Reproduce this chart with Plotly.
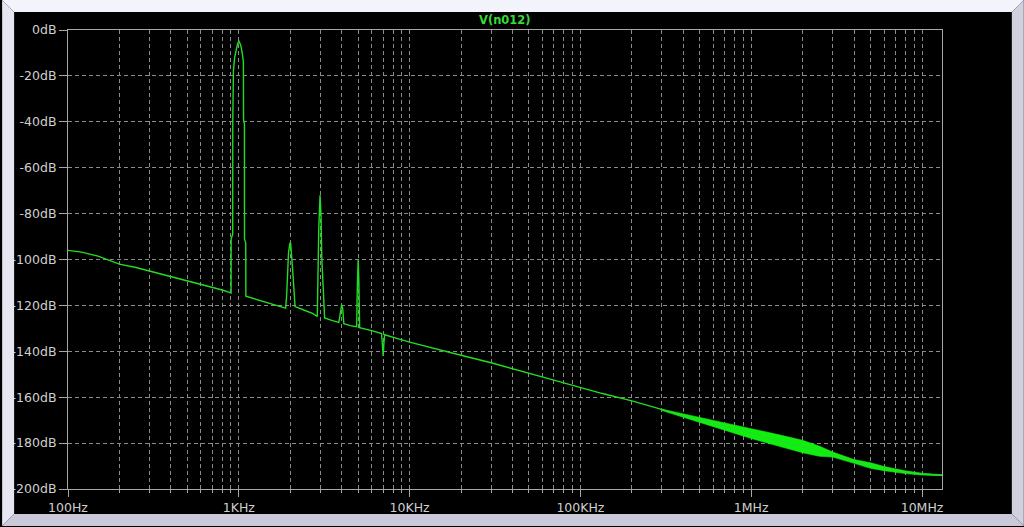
import plotly.graph_objects as go

# ---------------- data ----------------
freq_hz = [
    100, 120, 150, 200, 250, 300, 400, 500, 600, 700, 800, 880, 901,
    902, 921, 922, 930, 945, 965, 985, 1003, 1025, 1045, 1064, 1066, 1079, 1080, 1098, 1100,
    1200, 1400, 1600, 1800, 1880,
    1905, 1955, 1990, 2010, 2065, 2105, 2135,
    2400, 2700, 2880,
    2895, 2940, 2990, 3030, 3060, 3130, 3180,
    3500, 3850,
    3900, 3960, 4000, 4060, 4120,
    4500, 4900,
    4935, 5000, 5040, 5100,
    6000, 6850,
    6930, 7000, 7080, 7150,
    8500, 10000, 20000, 30000, 65000, 100000, 133000, 200000,
    300000, 400000, 500000, 700000, 1e6, 1.5e6, 2e6, 2.5e6, 3e6, 4e6, 5e6, 6e6, 8e6, 10e6, 13.1e6,
]
mag_db = [
    -96, -96.8, -98.5, -102, -103.5, -105, -107.5, -109.4, -110.8, -112, -113.3, -114.3, -114.6,
    -91, -89, -40, -18, -12, -8, -5.8, -5, -6.5, -9.5, -14, -39, -41, -91, -93, -116,
    -116.8, -118.3, -119.6, -120.6, -121.2,
    -116, -97, -93, -92.7, -104, -116, -120.5,
    -122, -123.5, -124.8,
    -112, -86, -72, -81, -99, -119, -125.5,
    -126.5, -127.4,
    -125, -120.5, -119.7, -121.5, -128,
    -128.8, -129.3,
    -114, -100, -108, -129.7,
    -131, -132.3,
    -137, -142, -136, -132.8,
    -134.5, -136, -141.7, -145, -151.9, -155.8, -158.3, -161.6,
    -165.5, -168.0, -169.9, -172.8, -175.8, -179.2, -181.5, -183.5, -185.0, -188.0, -189.8, -191.1, -192.7, -193.5, -194.0,
]

# envelope of the noisy part of the spectrum
band_freq_hz = [3e5, 4e5, 5e5, 7e5, 1e6, 1.5e6, 2e6, 2.5e6, 3e6, 4e6, 5e6, 6e6, 8e6, 10e6, 13.1e6]
band_upper_db = [-165.2, -167.2, -168.9, -171.2, -173.6, -176.6, -178.8, -181.3, -183.9, -187.2, -188.6, -190.2, -192.1, -193.1, -193.8]
band_lower_db = [-165.8, -168.8, -170.9, -174.4, -178.0, -181.8, -184.2, -185.7, -186.1, -188.8, -191.0, -192.0, -193.3, -193.9, -194.2]

x_tick_vals = [100, 1000, 10000, 100000, 1000000, 10000000]
x_tick_text = ["100Hz", "1KHz", "10KHz", "100KHz", "1MHz", "10MHz"]
y_tick_vals = [0, -20, -40, -60, -80, -100, -120, -140, -160, -180, -200]
y_tick_text = ["0dB", "-20dB", "-40dB", "-60dB", "-80dB", "-100dB", "-120dB",
               "-140dB", "-160dB", "-180dB", "-200dB"]
trace_name = "V(n012)"

# ---------------- layout geometry ----------------
W, H = 1024, 527
PL, PR, PT, PB = 66, 942, 30, 490   # plot area in pixels
X_RANGE = [2, 7.117]

def px(xpix):
    return (xpix - PL) / (PR - PL)

def py(ypix):
    return (PB - ypix) / (PB - PT)

def poly(pts):
    return "M " + " L ".join(f"{px(a):.5f},{py(b):.5f}" for a, b in pts) + " Z"

LINE_GREEN = "#22dd22"
GRID = "#8a8a8a"
AXIS = "#a8a8a8"
TEXT = "#cfcfcf"

fig = go.Figure()

fig.add_trace(go.Scatter(
    x=band_freq_hz, y=band_lower_db, mode="lines",
    line=dict(color="#10f010", width=0.6), hoverinfo="skip", showlegend=False))
fig.add_trace(go.Scatter(
    x=band_freq_hz, y=band_upper_db, mode="lines", fill="tonexty",
    fillcolor="#10f010", line=dict(color="#10f010", width=0.6),
    hoverinfo="skip", showlegend=False))
fig.add_trace(go.Scatter(
    x=freq_hz, y=mag_db, mode="lines", name=trace_name,
    line=dict(color=LINE_GREEN, width=1.4), showlegend=False))

minor_x = [m * 10 ** e for e in range(2, 8) for m in range(2, 10)]

fig.update_xaxes(
    type="log", range=X_RANGE,
    tickmode="array", tickvals=x_tick_vals, ticktext=x_tick_text,
    ticks="outside", ticklen=7, tickcolor=AXIS,
    showline=True, linecolor=AXIS, linewidth=1, mirror=True,
    showgrid=True, gridcolor=GRID, griddash="4px,3px", gridwidth=1,
    minor=dict(tickvals=minor_x, ticks="outside", ticklen=3, tickcolor=AXIS,
               showgrid=True, gridcolor=GRID, griddash="4px,3px", gridwidth=1),
    tickfont=dict(family="DejaVu Sans", size=12.5, color=TEXT),
    zeroline=False,
)
fig.update_yaxes(
    range=[-200, 0],
    tickmode="array", tickvals=y_tick_vals, ticktext=y_tick_text,
    ticks="outside", ticklen=8, tickcolor=AXIS,
    showline=True, linecolor=AXIS, linewidth=1, mirror=True,
    showgrid=True, gridcolor=GRID, griddash="4px,3px", gridwidth=1,
    tickfont=dict(family="DejaVu Sans", size=12.5, color=TEXT),
    zeroline=False,
)

# bevelled window frame around the black panel
frame = [
    ([(0, 0), (W, 0), (W - 12, 12), (12, 12)], "#f3f3fb"),
    ([(0, 0), (12, 12), (12, H - 12), (0, H)], "#e6e6f2"),
    ([(W, 0), (W, H), (W - 12, H - 12), (W - 12, 12)], "#d0d0de"),
    ([(0, H), (12, H - 12), (W - 12, H - 12), (W, H)], "#c9c9d9"),
]
shapes = [dict(type="path", xref="paper", yref="paper", path=poly(p),
               fillcolor=c, line=dict(width=0), layer="above") for p, c in frame]

fig.update_layout(
    width=W, height=H, autosize=False,
    margin=dict(l=PL, r=W - PR, t=PT, b=H - PB, pad=0),
    paper_bgcolor="black", plot_bgcolor="black",
    shapes=shapes,
    # short inside tick marks along the top border
    xaxis2=dict(type="log", range=X_RANGE, overlaying="x", side="top",
                tickmode="array", tickvals=x_tick_vals, showticklabels=False,
                ticks="inside", ticklen=3, tickcolor=AXIS, showgrid=False,
                showline=False, zeroline=False,
                minor=dict(tickvals=minor_x, ticks="inside", ticklen=3,
                           tickcolor=AXIS, showgrid=False)),
    annotations=[dict(text=trace_name, xref="paper", yref="paper",
                      x=0.5, y=py(19.5), xanchor="center", yanchor="middle",
                      showarrow=False,
                      font=dict(family="DejaVu Sans", size=11.5, color="#33dd33",
                                weight="bold"))],
)

fig.write_html(
    "out.html",
    config={"displayModeBar": False},
    post_script="document.body.style.margin='0';document.body.style.overflow='hidden';"
                "document.documentElement.style.overflow='hidden';",
)
